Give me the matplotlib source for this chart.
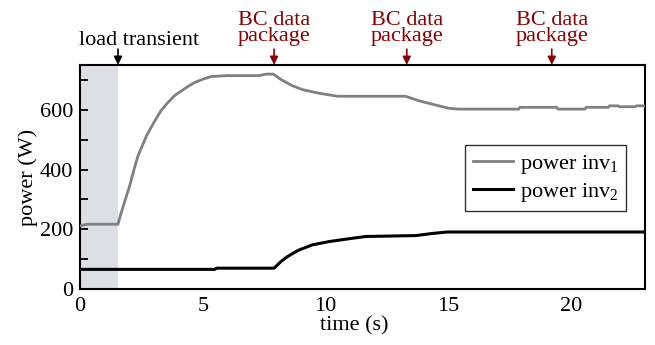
import numpy as np
import matplotlib
matplotlib.use('Agg')
from matplotlib import pyplot as plt
import matplotlib.transforms as mtransforms

plt.rcParams['font.family'] = ['Liberation Serif', 'DejaVu Serif']
plt.rcParams['mathtext.fontset'] = 'custom'
plt.rcParams['mathtext.rm'] = 'Liberation Serif'
plt.rcParams['mathtext.it'] = 'Liberation Serif:italic'

# inverter 1 power (gray)
t_inv1 = [0.0, 0.3, 1.55, 1.65, 1.85, 2.03, 2.2, 2.37, 2.71, 3.05, 3.3, 3.59,
          3.85, 4.13, 4.4, 4.67, 5.0, 5.35, 6.0,
          7.3, 7.57, 7.87, 8.2, 8.65, 9.06, 9.67, 10.48, 13.25, 13.79, 14.6,
          15.0, 15.4, 17.85, 17.9, 19.4, 19.45, 20.55, 20.6, 21.5, 21.55,
          21.9, 21.95, 22.6, 22.65, 23.0]
p_inv1 = [212, 217, 217, 247, 300, 347, 400, 447, 513, 563, 597, 625,
          647, 663, 678, 691, 702, 711, 714,
          714, 719, 719, 700, 680, 667, 656, 645, 645, 630, 613,
          605, 602, 602, 608, 608, 602, 602, 608, 608, 613,
          613, 610, 610, 613, 613]

# inverter 2 power (black)
t_inv2 = [0.0, 5.5, 5.55, 7.9, 8.15, 8.38, 8.65, 8.92, 9.46, 10.14, 10.82,
          11.63, 13.66, 14.33, 14.94, 23.0]
p_inv2 = [66, 66, 70, 70, 90, 105, 119, 131, 148, 159, 167,
          176, 179, 186, 191, 191]

shade_end = 1.55
load_t = 1.55
bc_t = [7.9, 13.3, 19.2]

fs = 16

fig = plt.figure(figsize=(6.55, 3.45), dpi=100)
ax = fig.add_axes([0.122, 0.162, 0.863, 0.650])

ax.axvspan(0, shade_end, color='#dcdfe3', lw=0, zorder=0)
ax.plot(t_inv1, p_inv1, color='#808080', lw=2.0, label='power inv$_1$', zorder=3)
ax.plot(t_inv2, p_inv2, color='black', lw=2.2, label='power inv$_2$', zorder=3)

ax.set_xlim(0, 23)
ax.set_ylim(0, 750)
ax.set_xticks([0, 5, 10, 15, 20])
ax.set_yticks([0, 200, 400, 600])
ax.set_yticks([100, 300, 500, 700], minor=True)
ax.tick_params(axis='x', length=0, pad=6, labelsize=fs)
ax.tick_params(axis='y', which='both', direction='in', length=6, width=1.3,
               pad=5, labelsize=fs)
for s in ax.spines.values():
    s.set_linewidth(1.5)

ax.set_xlabel('time (s)', fontsize=fs, labelpad=0, x=0.485)
ax.set_ylabel('power (W)', fontsize=fs, labelpad=1)

leg = ax.legend(loc='upper right', bbox_to_anchor=(0.986, 0.69), fontsize=fs,
                frameon=True, fancybox=False, edgecolor='black',
                handlelength=1.8, handletextpad=0.3, borderpad=0.35,
                labelspacing=0.2)
leg.get_frame().set_linewidth(1.0)

trans = mtransforms.blended_transform_factory(ax.transData, ax.transAxes)
ax.annotate('', xy=(load_t, 1.0), xytext=(load_t, 1.07), xycoords=trans,
            textcoords=trans,
            arrowprops=dict(arrowstyle='-|>', color='black', lw=1.2,
                            mutation_scale=12, shrinkA=0, shrinkB=0))
ax.text(load_t + 0.85, 1.089, 'load transient', transform=trans, ha='center',
        va='baseline', fontsize=fs, color='black')
red = '#8b0000'
for x in bc_t:
    ax.annotate('', xy=(x, 1.0), xytext=(x, 1.07), xycoords=trans,
                textcoords=trans,
                arrowprops=dict(arrowstyle='-|>', color=red, lw=1.2,
                                mutation_scale=12, shrinkA=0, shrinkB=0))
    ax.text(x, 1.085, 'BC data\npackage', transform=trans, ha='center',
            va='bottom', fontsize=fs, color=red, linespacing=0.8)

fig.savefig('out.png', dpi=100)
